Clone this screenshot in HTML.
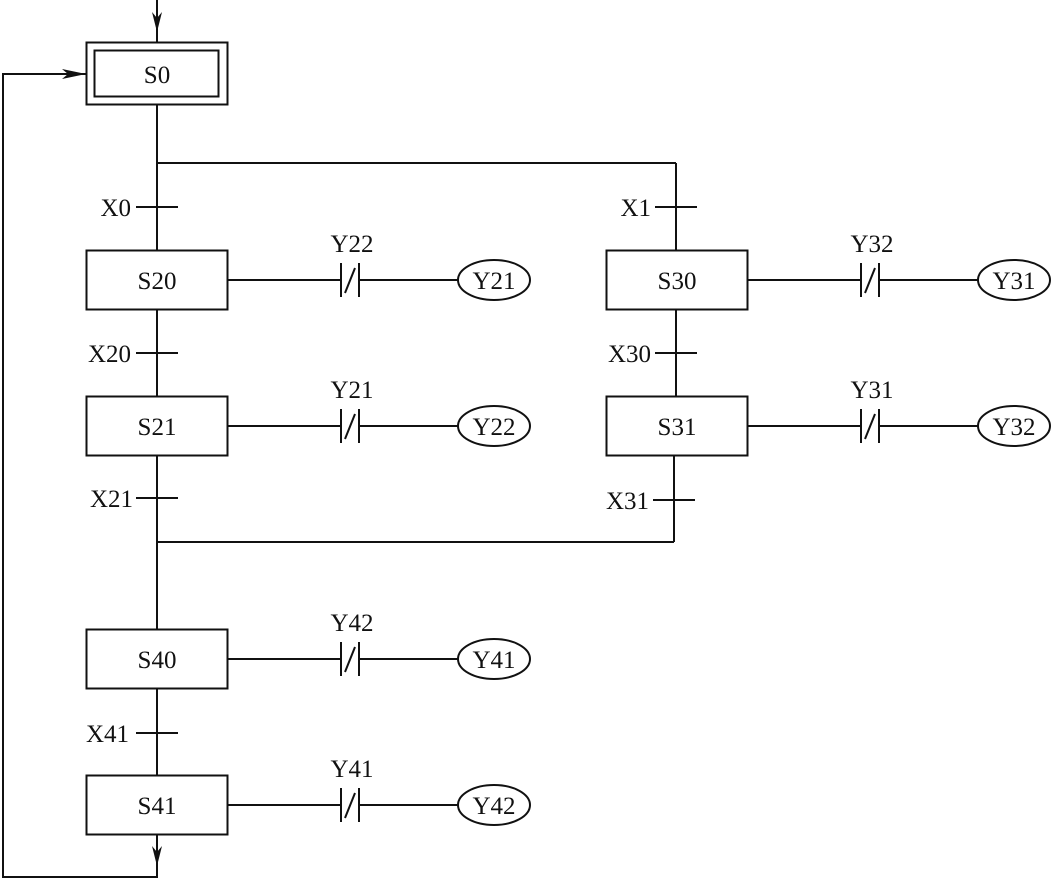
<!DOCTYPE html>
<html><head><meta charset="utf-8"><style>
html,body{margin:0;padding:0;background:#fff;}
svg{display:block;}
text{font-family:"Liberation Serif",serif;font-size:25px;fill:#111;}
</style></head><body>
<svg width="1052" height="879" viewBox="0 0 1052 879" xmlns="http://www.w3.org/2000/svg">
<g stroke="#111" stroke-width="2" fill="none">
<!-- top arrow -->
<line x1="157" y1="0" x2="157" y2="42"/>
<!-- S0 -->
<rect x="86.5" y="42.5" width="141" height="62"/>
<rect x="94.5" y="50.5" width="124" height="46"/>
<!-- loop -->
<polyline points="157,834 157,877 3,877 3,74 86,74"/>
<!-- main line -->
<line x1="157" y1="105" x2="157" y2="250"/>
<line x1="157" y1="163" x2="676" y2="163"/>
<line x1="676" y1="163" x2="676" y2="250"/>
<line x1="136" y1="207" x2="178" y2="207"/>
<line x1="655" y1="207" x2="697" y2="207"/>
<!-- left branch -->
<rect x="86.5" y="250.5" width="141" height="59"/>
<line x1="157" y1="310" x2="157" y2="396"/>
<line x1="136" y1="353" x2="178" y2="353"/>
<rect x="86.5" y="396.5" width="141" height="59"/>
<line x1="157" y1="456" x2="157" y2="629"/>
<line x1="136" y1="498" x2="178" y2="498"/>
<!-- right branch -->
<rect x="606.5" y="250.5" width="141" height="59"/>
<line x1="676" y1="310" x2="676" y2="396"/>
<line x1="655" y1="353" x2="697" y2="353"/>
<rect x="606.5" y="396.5" width="141" height="59"/>
<line x1="674" y1="456" x2="674" y2="542"/>
<line x1="653" y1="500" x2="695" y2="500"/>
<line x1="157" y1="542" x2="674" y2="542"/>
<!-- S40/S41 -->
<rect x="86.5" y="629.5" width="141" height="59"/>
<line x1="157" y1="689" x2="157" y2="775"/>
<line x1="136" y1="733" x2="178" y2="733"/>
<rect x="86.5" y="775.5" width="141" height="59"/>
<!-- contacts left -->
<g id="c1">
<line x1="228" y1="280" x2="341" y2="280"/>
<line x1="341" y1="263" x2="341" y2="297"/>
<line x1="359" y1="263" x2="359" y2="297"/>
<line x1="345" y1="293" x2="355" y2="268"/>
<line x1="359" y1="280" x2="458" y2="280"/>
<ellipse cx="494" cy="280" rx="36" ry="20"/>
</g>
<use href="#c1" y="146"/>
<use href="#c1" y="379"/>
<use href="#c1" y="525"/>
<use href="#c1" x="520"/>
<use href="#c1" x="520" y="146"/>
</g>
<!-- arrowheads -->
<g fill="#111">
<polygon points="152,12 157,32 162,12 157,18"/>
<polygon points="62,69 86,74 62,79 68,74"/>
<polygon points="152,846 157,866 162,846 157,852"/>
</g>
<g text-anchor="middle">
<text x="157" y="83">S0</text>
<text x="157" y="289">S20</text>
<text x="157" y="435">S21</text>
<text x="677" y="289">S30</text>
<text x="677" y="435">S31</text>
<text x="157" y="668">S40</text>
<text x="157" y="814">S41</text>
<text x="494" y="289">Y21</text>
<text x="494" y="435">Y22</text>
<text x="1014" y="289">Y31</text>
<text x="1014" y="435">Y32</text>
<text x="494" y="668">Y41</text>
<text x="494" y="814">Y42</text>
<text x="352" y="252">Y22</text>
<text x="352" y="398">Y21</text>
<text x="872" y="252">Y32</text>
<text x="872" y="398">Y31</text>
<text x="352" y="631">Y42</text>
<text x="352" y="777">Y41</text>
</g>
<g text-anchor="end">
<text x="131" y="216">X0</text>
<text x="651" y="216">X1</text>
<text x="131" y="362">X20</text>
<text x="651" y="362">X30</text>
<text x="133" y="507">X21</text>
<text x="649" y="509">X31</text>
<text x="129" y="742">X41</text>
</g>
</svg>
</body></html>
